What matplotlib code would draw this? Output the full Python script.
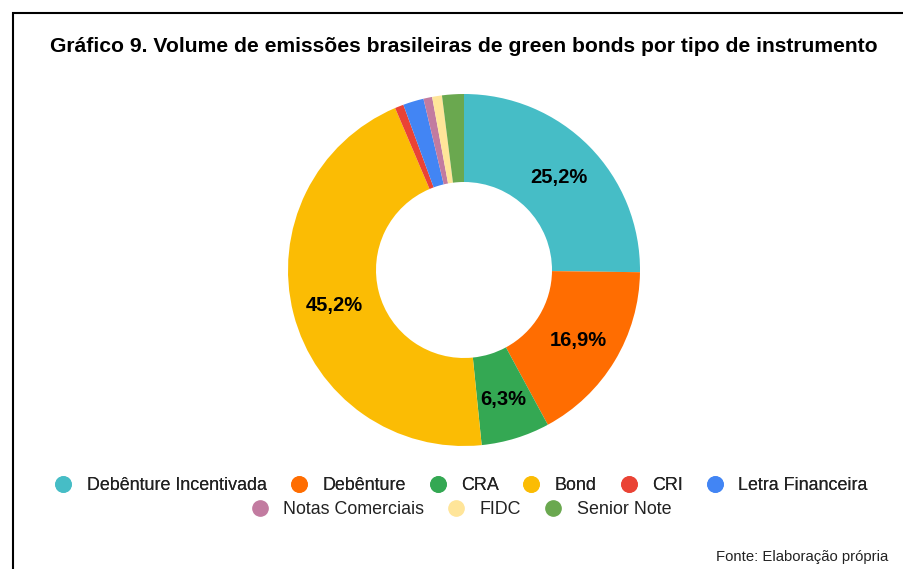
import numpy as np
import matplotlib.pyplot as plt
from matplotlib.patches import Rectangle
from matplotlib.lines import Line2D

plt.rcParams['font.family'] = ['Liberation Sans', 'DejaVu Sans']

categories = ["Debênture Incentivada", "Debênture", "CRA", "Bond", "CRI",
              "Letra Financeira", "Notas Comerciais", "FIDC", "Senior Note"]
shares = [25.2, 16.9, 6.3, 45.2, 0.8, 1.9, 0.8, 0.9, 2.0]
colors = ["#46bdc6", "#ff6d01", "#34a853", "#fbbc04", "#ea4335",
          "#4285f4", "#c27ba0", "#ffe599", "#6aa84f"]

fig = plt.figure(figsize=(9.04, 5.69), dpi=100)

# frame around the chart (only left/top visible)
fig.patches.append(Rectangle((13 / 904, -0.1), 1.2, 1 - 13 / 569 + 0.1,
                             transform=fig.transFigure, fill=False,
                             edgecolor="black", linewidth=1.5))

ax = fig.add_axes([(464 - 176) / 904, 1 - (270 + 176) / 569, 352 / 904, 352 / 569])
wedges, _ = ax.pie(shares, colors=colors, startangle=90, counterclock=False,
                   radius=1.0, wedgeprops=dict(width=0.5, linewidth=0))
ax.set_xlim(-1, 1)
ax.set_ylim(-1, 1)
ax.set_aspect("equal")

angle = 90.0
for v in shares:
    mid = angle - v / 100 * 360 / 2
    if v >= 5:
        r = 0.76
        ax.text(r * np.cos(np.radians(mid)), r * np.sin(np.radians(mid)) - 0.01,
                f"{v:.1f}%".replace(".", ","), ha="center", va="center",
                fontsize=14.5, fontweight="bold", color="black")
    angle -= v / 100 * 360

fig.text(464 / 904, 1 - 47 / 569, "Gráfico 9. Volume de emissões brasileiras de green bonds por tipo de instrumento",
         ha="center", va="center", fontsize=15.2, fontweight="bold")

def make_handles(cols):
    return [Line2D([], [], marker="o", linestyle="none", markersize=11,
                   markerfacecolor=c, markeredgecolor=c) for c in cols]

leg_kw = dict(loc="center", frameon=False, fontsize=12.9, handletextpad=0.8,
              columnspacing=1.3, handlelength=1.0, labelcolor="#222222")
leg1 = fig.legend(make_handles(colors[:6]), categories[:6],
                  bbox_to_anchor=(461 / 904, 1 - 486 / 569), ncol=6, **leg_kw)
fig.add_artist(leg1)
fig.legend(make_handles(colors[6:]), categories[6:],
           bbox_to_anchor=(461 / 904, 1 - 510 / 569), ncol=3, **leg_kw)

fig.text(888 / 904, 1 - 557 / 569, "Fonte: Elaboração própria", ha="right", va="center",
         fontsize=10.7, color="#222222")

fig.savefig("out.png", dpi=100)
